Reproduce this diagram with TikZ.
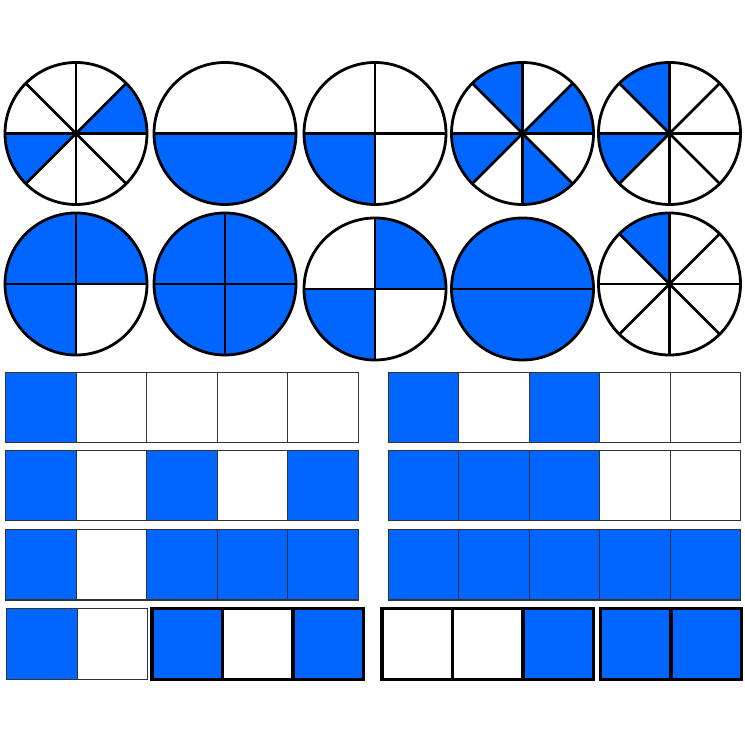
\documentclass[tikz,border=0pt]{standalone}
\usepackage{tikz}
\definecolor{fracblue}{RGB}{0,102,255}

% pie: centre, parts, filled parts (counted anticlockwise from 0 deg)
\newcommand{\fracpie}[3]{%
  \foreach \k in {#3} {
    \fill[fracblue] (#1) -- ++({\k*360/#2}:71) arc[start angle={\k*360/#2}, end angle={(\k+1)*360/#2}, radius=71] -- cycle;
  }
  \foreach \k in {1,...,#2} \draw[pieline] (#1) -- ++({\k*360/#2}:71);
  \draw[pieline] (#1) circle[radius=71];
}

% bar: style, lower left corner, fill of each cell
\newcommand{\fracbar}[3]{%
  \foreach \f [count=\i from 0] in {#3} {
    \filldraw[#1, fill=\f] ($(#2)+(\i*70.5,0)$) rectangle ++(70.5,70.5);
  }
}
\usetikzlibrary{calc}

\begin{document}
\begin{tikzpicture}[
    x=1pt, y=1pt,
    pieline/.style={draw=black, line width=2.8pt},
    thinbar/.style={draw=black!80, line width=1.2pt},
    thickbar/.style={draw=black, line width=3.2pt}
]
\useasboundingbox (0,0) rectangle (745,745);

% Circles, first row
\fracpie{76,611.5}{8}{0,4}
\fracpie{225,611.5}{2}{1}
\fracpie{375,611.5}{4}{2}
\fracpie{522.5,611.5}{8}{0,2,4,6}
\fracpie{669.5,611.5}{8}{2,4}

% Circles, second row
\fracpie{76,461}{4}{0,1,2}
\fracpie{225,461}{4}{0,1,2,3}
\fracpie{375,456}{4}{0,2}
\fracpie{522.5,456}{2}{0,1}
\fracpie{669.5,461}{8}{2}

% Bars, left column
\fracbar{thinbar}{5.7,302.3}{fracblue,white,white,white,white}
\fracbar{thinbar}{5.7,224.3}{fracblue,white,fracblue,white,fracblue}
\fracbar{thinbar}{5.7,145}{fracblue,white,fracblue,fracblue,fracblue}

% Bars, right column
\fracbar{thinbar}{388.3,302.3}{fracblue,white,fracblue,white,white}
\fracbar{thinbar}{388.3,224.3}{fracblue,fracblue,fracblue,white,white}
\fracbar{thinbar}{388.3,145}{fracblue,fracblue,fracblue,fracblue,fracblue}

% Short bars
\fracbar{thinbar}{6.7,65.7}{fracblue,white}
\fracbar{thickbar}{152,65.7}{fracblue,white,fracblue}
\fracbar{thickbar}{382,65.7}{white,white,fracblue}
\fracbar{thickbar}{600.5,65.7}{fracblue,fracblue}

\end{tikzpicture}
\end{document}
